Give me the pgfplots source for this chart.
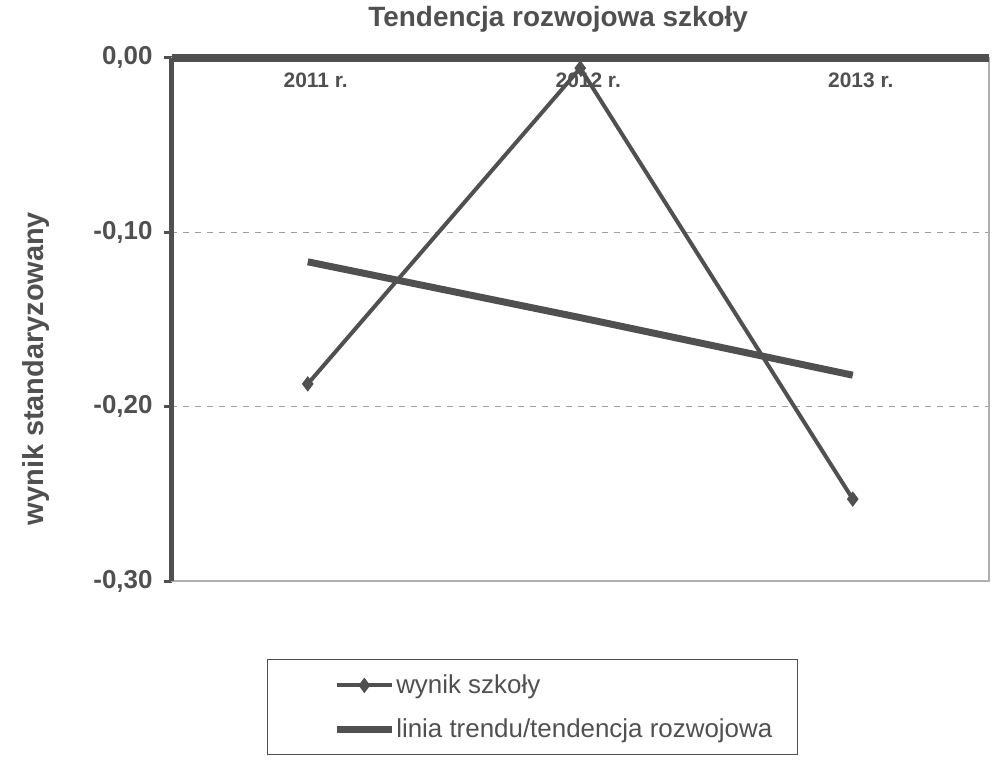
\documentclass[border=0pt]{standalone}
\usepackage{pgfplots}
\pgfplotsset{compat=1.18}
\usepackage{fontspec}
\setmainfont{Liberation Sans}
\definecolor{ink}{HTML}{505050}
\begin{document}
\begin{tikzpicture}
\begin{axis}[
 scale only axis, width=410pt, height=262.5pt,
 xmin=-0.5, xmax=2.5, ymin=-0.3, ymax=0,
 xtick={0,1,2}, xticklabels={2011 r.,2012 r.,2013 r.},
 xticklabel pos=upper,
 xtick style={draw=none},
 xticklabel style={anchor=north, yshift=-8pt, xshift=4pt, font=\bfseries\fontsize{10.5}{12}\selectfont, text=ink},
 ytick={-0.3,-0.2,-0.1,0},
 ytick pos=left,
 tick align=outside, major tick length=4pt,
 ytick style={ink, line width=1.5pt},
 yticklabel style={font=\bfseries\fontsize{13}{15}\selectfont, text=ink, xshift=-2pt, /pgf/number format/.cd, fixed, fixed zerofill, precision=2, use comma, assume math mode=true},
 ymajorgrids, grid style={ink!55, dashed, line width=0.4pt},
 axis line style={draw=ink!45, line width=0.6pt},
 title={Tendencja rozwojowa szkoły},
 title style={at={(0.473,1)}, anchor=south, yshift=3pt, font=\bfseries\fontsize{14}{16}\selectfont, text=ink},
 ylabel={wynik standaryzowany},
 ylabel style={at={(axis description cs:-0.166,0.406)}, anchor=center, font=\bfseries\fontsize{14.5}{16}\selectfont, text=ink},
 legend style={at={(0.117,-0.149)}, anchor=north west, draw=ink, line width=0.5pt, font=\fontsize{13}{15}\selectfont, text=ink, inner xsep=12pt, inner ysep=6pt, row sep=8pt, nodes={inner xsep=0.5pt, inner ysep=1.5pt}, legend cell align=left},
 legend image code/.code={\path (0pt,0pt); \draw[#1] (21pt,0pt) -- (48.5pt,0pt); \draw[mark repeat=2, mark phase=2, #1] plot coordinates {(21pt,0pt) (34.75pt,0pt) (48.5pt,0pt)};},
 clip=false,
]
\path (rel axis cs:-0.2098,-0.3524) rectangle (rel axis cs:1.0012,1.1048);
\addplot[ink, line width=2pt, mark=diamond*, mark size=3.5pt, mark options={fill=ink, line width=0.5pt}] coordinates {(0,-0.187) (1,-0.006) (2,-0.253)};
\addlegendentry{wynik szkoły}
\addplot[ink, line width=3.5pt] coordinates {(0,-0.117) (1,-0.149) (2,-0.182)};
\addlegendentry{linia trendu/tendencja rozwojowa}
\draw[ink, line width=4pt] (rel axis cs:0,1) -- (rel axis cs:1,1);
\draw[ink, line width=3pt] (rel axis cs:0,0) -- (rel axis cs:0,1);
\end{axis}
\end{tikzpicture}
\end{document}
